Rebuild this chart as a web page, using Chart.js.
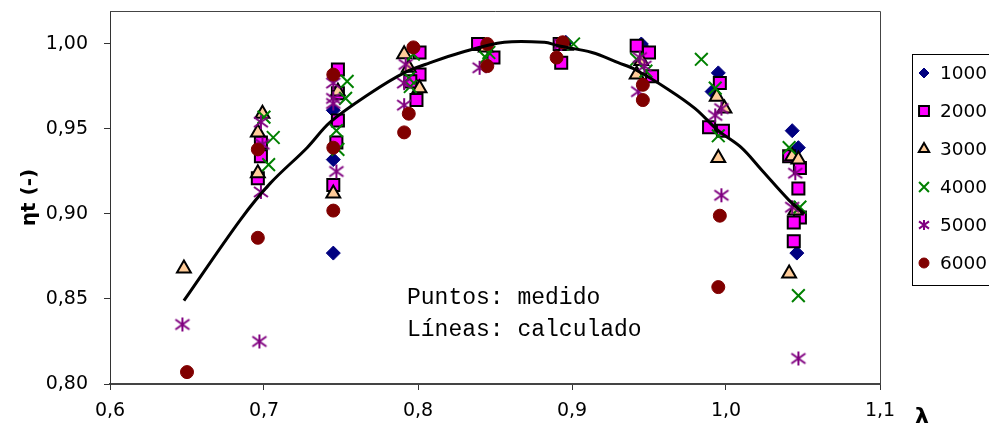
<!DOCTYPE html>
<html>
<head>
<meta charset="utf-8">
<script src="https://cdn.jsdelivr.net/npm/chart.js@4/dist/chart.umd.min.js"></script>
<style>
  html, body { margin: 0; padding: 0; background: #fff; overflow: hidden; }
</style>
</head>
<body>
<canvas id="chart" width="989" height="434"></canvas>
<script>
// measured efficiency vs. tip speed ratio, one series per speed
const seriesNames = ["1000", "2000", "3000", "4000", "5000", "6000"];

const lam1000 = [0.745, 0.745, 0.745, 0.841, 0.896, 0.945, 0.946, 0.995, 0.991, 1.043, 1.047, 1.046];
const eta1000 = [0.961, 0.932, 0.877, 0.999, 1.001, 1.000, 0.998, 0.983, 0.972, 0.949, 0.939, 0.877];

const lam2000 = [0.698, 0.698, 0.696, 0.748, 0.748, 0.748, 0.747, 0.745, 0.801, 0.801, 0.795, 0.799,
                 0.839, 0.849, 0.892, 0.893, 0.942, 0.950, 0.952, 0.996, 0.989, 0.998,
                 1.041, 1.048, 1.047, 1.048, 1.044, 1.044];
const eta2000 = [0.942, 0.934, 0.921, 0.985, 0.971, 0.955, 0.942, 0.917, 0.995, 0.982, 0.978, 0.967,
                 1.000, 0.992, 1.000, 0.989, 0.999, 0.995, 0.981, 0.977, 0.951, 0.949,
                 0.934, 0.927, 0.915, 0.898, 0.895, 0.884];

const lam3000 = [0.648, 0.699, 0.696, 0.696, 0.748, 0.745, 0.791, 0.794, 0.801, 0.844, 0.896,
                 0.945, 0.942, 0.994, 0.999, 0.995, 1.043, 1.047, 1.045, 1.041];
const eta3000 = [0.868, 0.959, 0.948, 0.924, 0.972, 0.912, 0.994, 0.986, 0.974, 0.998, 0.999,
                 0.990, 0.982, 0.969, 0.962, 0.933, 0.934, 0.932, 0.902, 0.865];

const lam4000 = [0.700, 0.706, 0.703, 0.754, 0.753, 0.747, 0.748, 0.797, 0.794, 0.795, 0.846, 0.844,
                 0.901, 0.942, 0.948, 0.984, 0.993, 0.995, 1.041, 1.048, 1.047];
const eta4000 = [0.957, 0.945, 0.929, 0.978, 0.968, 0.949, 0.938, 0.994, 0.980, 0.975, 0.995, 0.992,
                 1.000, 0.991, 0.984, 0.991, 0.974, 0.946, 0.939, 0.904, 0.852];

const lam5000 = [0.647, 0.698, 0.699, 0.698, 0.697, 0.745, 0.745, 0.745, 0.747, 0.792, 0.791, 0.791,
                 0.840, 0.893, 0.944, 0.947, 0.943, 0.997, 0.993, 0.997, 1.045, 1.043, 1.047];
const eta5000 = [0.835, 0.954, 0.941, 0.913, 0.825, 0.977, 0.968, 0.965, 0.925, 0.988, 0.977, 0.964,
                 0.986, 1.000, 0.992, 0.987, 0.972, 0.962, 0.958, 0.911, 0.924, 0.904, 0.815];

const lam6000 = [0.650, 0.696, 0.696, 0.745, 0.745, 0.745, 0.797, 0.794, 0.791, 0.845, 0.845,
                 0.894, 0.890, 0.946, 0.946, 0.996, 0.995];
const eta6000 = [0.807, 0.938, 0.886, 0.982, 0.939, 0.902, 0.998, 0.959, 0.948, 1.000, 0.987,
                 1.001, 0.992, 0.976, 0.967, 0.899, 0.857];

// calculated curve
const curveLam = [0.648, 0.685, 0.704, 0.728, 0.743, 0.769, 0.791, 0.808, 0.828, 0.856,
                  0.882, 0.891, 0.913, 0.930, 0.941, 0.963, 0.980, 0.995, 1.010, 1.023, 1.041, 1.051];
const curveEta = [0.849, 0.897, 0.918, 0.939, 0.954, 0.971, 0.983, 0.989, 0.995, 1.001,
                  1.001, 0.999, 0.995, 0.989, 0.985, 0.973, 0.962, 0.949, 0.939, 0.926, 0.908, 0.900];

const xTicks = [0.6, 0.7, 0.8, 0.9, 1.0, 1.1];
const yTicks = [0.80, 0.85, 0.90, 0.95, 1.00];

function pts(xs, ys) {
  return xs.map((x, i) => ({ x: x, y: ys[i] }));
}

function asterisk(size, r, color, lw) {
  const c = document.createElement("canvas");
  c.width = c.height = size;
  const g = c.getContext("2d");
  const m = size / 2;
  g.strokeStyle = color;
  g.lineWidth = lw;
  g.beginPath();
  g.moveTo(m, m - r); g.lineTo(m, m + r);
  g.moveTo(m - r, m - r * 0.72); g.lineTo(m + r, m + r * 0.72);
  g.moveTo(m - r, m + r * 0.72); g.lineTo(m + r, m - r * 0.72);
  g.stroke();
  return c;
}

const starBig = asterisk(18, 7, "#800080", 2);
const starSmall = asterisk(14, 5, "#800080", 2);

const markers = [
  { style: "rectRot", r: 7, fill: "#000080", line: "#000080", bw: 1, lr: 5 },
  { style: "rect", r: 8.5, fill: "#FF00FF", line: "#000000", bw: 2, lr: 7 },
  { style: "triangle", r: 8, fill: "#FFCC99", line: "#000000", bw: 2, lr: 6 },
  { style: "crossRot", r: 9, fill: "#008000", line: "#008000", bw: 2, lr: 7 },
  { style: starBig, r: 7, fill: "#800080", line: "#800080", bw: 2, lr: 5 },
  { style: "circle", r: 6.5, fill: "#800000", line: "#800000", bw: 1, lr: 5 }
];

const lamSets = [lam1000, lam2000, lam3000, lam4000, lam5000, lam6000];
const etaSets = [eta1000, eta2000, eta3000, eta4000, eta5000, eta6000];

const datasets = seriesNames.map((name, i) => ({
  label: name,
  data: pts(lamSets[i], etaSets[i]),
  showLine: false,
  pointStyle: markers[i].style,
  pointRadius: markers[i].r,
  pointHoverRadius: markers[i].r,
  pointBackgroundColor: markers[i].fill,
  pointBorderColor: markers[i].line,
  pointBorderWidth: markers[i].bw,
  order: 6 - i
}));

datasets.push({
  label: "calculado",
  data: pts(curveLam, curveEta),
  showLine: true,
  borderColor: "#000",
  borderWidth: 3,
  pointRadius: 0,
  tension: 0.35,
  order: 0
});

const tickFont = { family: "DejaVu Sans", size: 19 };

// legend box, annotation and the frame lines
const extras = {
  id: "extras",
  afterDraw(chart) {
    const ctx = chart.ctx;
    const a = chart.chartArea;
    ctx.save();

    ctx.strokeStyle = "#444";
    ctx.lineWidth = 1;
    ctx.beginPath();
    ctx.moveTo(a.left, a.top + 0.5);
    ctx.lineTo(a.right + 0.5, a.top + 0.5);
    ctx.lineTo(a.right + 0.5, a.bottom);
    ctx.stroke();

    ctx.fillStyle = "#000";
    ctx.font = '23px "Liberation Mono"';
    ctx.textBaseline = "middle";
    ctx.textAlign = "left";
    ctx.fillText("Puntos: medido", 407, 298);
    ctx.fillText("Líneas: calculado", 407, 330);

    ctx.font = 'bold 22px "DejaVu Sans"';
    ctx.textAlign = "center";
    ctx.fillText("λ", 922, 417);

    ctx.strokeStyle = "#000";
    ctx.lineWidth = 1;
    ctx.strokeRect(912.5, 54.5, 100, 231);

    ctx.font = '18.5px "DejaVu Sans"';
    ctx.textAlign = "left";
    seriesNames.forEach((name, i) => {
      const m = markers[i];
      const y = 73 + i * 38;
      ctx.fillStyle = m.fill;
      ctx.strokeStyle = m.line;
      ctx.lineWidth = m.bw;
      if (i === 4) {
        ctx.drawImage(starSmall, 924 - 7, y - 7);
      } else if (Chart.helpers && Chart.helpers.drawPoint) {
        Chart.helpers.drawPoint(ctx, { pointStyle: m.style, radius: m.lr, rotation: 0, borderWidth: m.bw }, 924, y);
      }
      ctx.fillStyle = "#000";
      ctx.fillText(name, 940, y + 1);
    });
    ctx.restore();
  }
};

new Chart(document.getElementById("chart"), {
  type: "scatter",
  data: { datasets: datasets },
  options: {
    responsive: false,
    animation: false,
    events: [],
    layout: { padding: { left: 0, top: 11, right: 109, bottom: 0 } },
    plugins: {
      legend: { display: false },
      tooltip: { enabled: false }
    },
    scales: {
      x: {
        type: "linear",
        min: 0.6,
        max: 1.1,
        afterBuildTicks: s => { s.ticks = xTicks.map(v => ({ value: v })); },
        afterFit: s => { s.height = 50; s.paddingLeft = 0; s.paddingRight = 0; },
        ticks: {
          font: tickFont,
          color: "#000",
          padding: 10,
          maxRotation: 0,
          callback: v => Number(v).toFixed(1).replace(".", ",")
        },
        grid: { drawOnChartArea: false, drawTicks: true, tickLength: 6, color: "#333" },
        border: { color: "#444", width: 2 }
      },
      y: {
        min: 0.8,
        max: 1.0194,
        afterBuildTicks: s => { s.ticks = yTicks.map(v => ({ value: v })); },
        afterFit: s => { s.width = 110; s.paddingTop = 0; s.paddingBottom = 0; },
        ticks: {
          font: tickFont,
          color: "#000",
          padding: 16,
          callback: v => Number(v).toFixed(2).replace(".", ",")
        },
        grid: { drawOnChartArea: false, drawTicks: true, tickLength: 6, color: "#333" },
        border: { color: "#333", width: 1 },
        title: {
          display: true,
          text: "ηt (-)",
          color: "#000",
          font: { family: "DejaVu Sans", weight: "bold", size: 20 },
          padding: { top: 18, bottom: 0 }
        }
      }
    }
  },
  plugins: [extras]
});
</script>
</body>
</html>
